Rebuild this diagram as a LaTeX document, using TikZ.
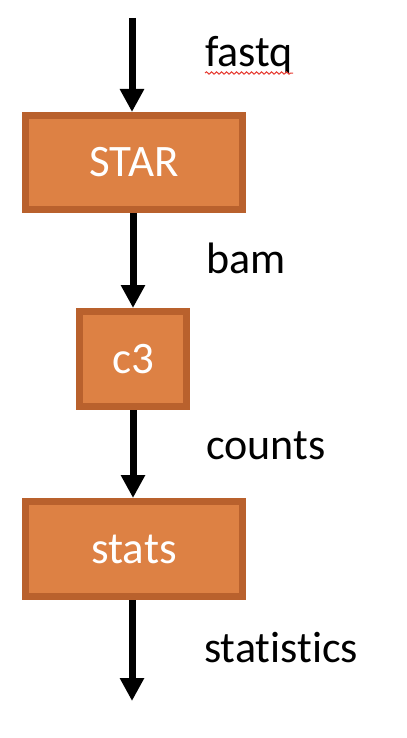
\documentclass[tikz,border=0pt]{standalone}
\usepackage{fontspec}
\setmainfont{Carlito}[Ligatures={NoCommon}]
\usetikzlibrary{arrows.meta,decorations.pathmorphing}
\definecolor{boxfill}{RGB}{221,129,68}
\definecolor{boxline}{RGB}{185,97,45}
\definecolor{squiggle}{RGB}{230,60,50}
\tikzset{
  procbox/.style={draw=boxline, fill=boxfill, line width=7bp, inner sep=0pt,
    text=white, font=\fontsize{45bp}{54bp}\selectfont},
  flow/.style={line width=7bp, -{Triangle[width=23bp,length=23bp]}},
  datalabel/.style={anchor=base west, inner sep=0pt, font=\fontsize{44bp}{52bp}\selectfont}
}
\begin{document}
\begin{tikzpicture}[x=1bp,y=-1bp]
\useasboundingbox (0,0) rectangle (406,738);
\node[procbox, minimum width=217bp, minimum height=94bp] (star) at (134,162.5) {STAR};
\node[procbox, minimum width=107bp, minimum height=95bp] (c3) at (133,359) {c3};
\node[procbox, minimum width=217bp, minimum height=95bp] (stats) at (134,549) {stats};
\coordinate (in) at (132,18);
\coordinate (out) at (132,701);
\draw[flow] (in) -- (in |- star.north);
\draw[flow] (star.south -| c3.north) -- (c3.north);
\draw[flow] (c3.south) -- (c3.south |- stats.north);
\draw[flow] (stats.south -| out) -- (out);
\node[datalabel] (fastq) at (205,67) {fastq};
\node[datalabel] (bam) at (206,273) {bam};
\node[datalabel] (counts) at (206,459) {counts};
\node[datalabel] (statistics) at (204,662) {statistics};
\draw[squiggle, line width=1bp, decorate, decoration={snake, amplitude=1.2bp, segment length=5bp}]
  ([yshift=-6bp]fastq.base west) -- ([yshift=-6bp]fastq.base east);
\end{tikzpicture}
\end{document}
